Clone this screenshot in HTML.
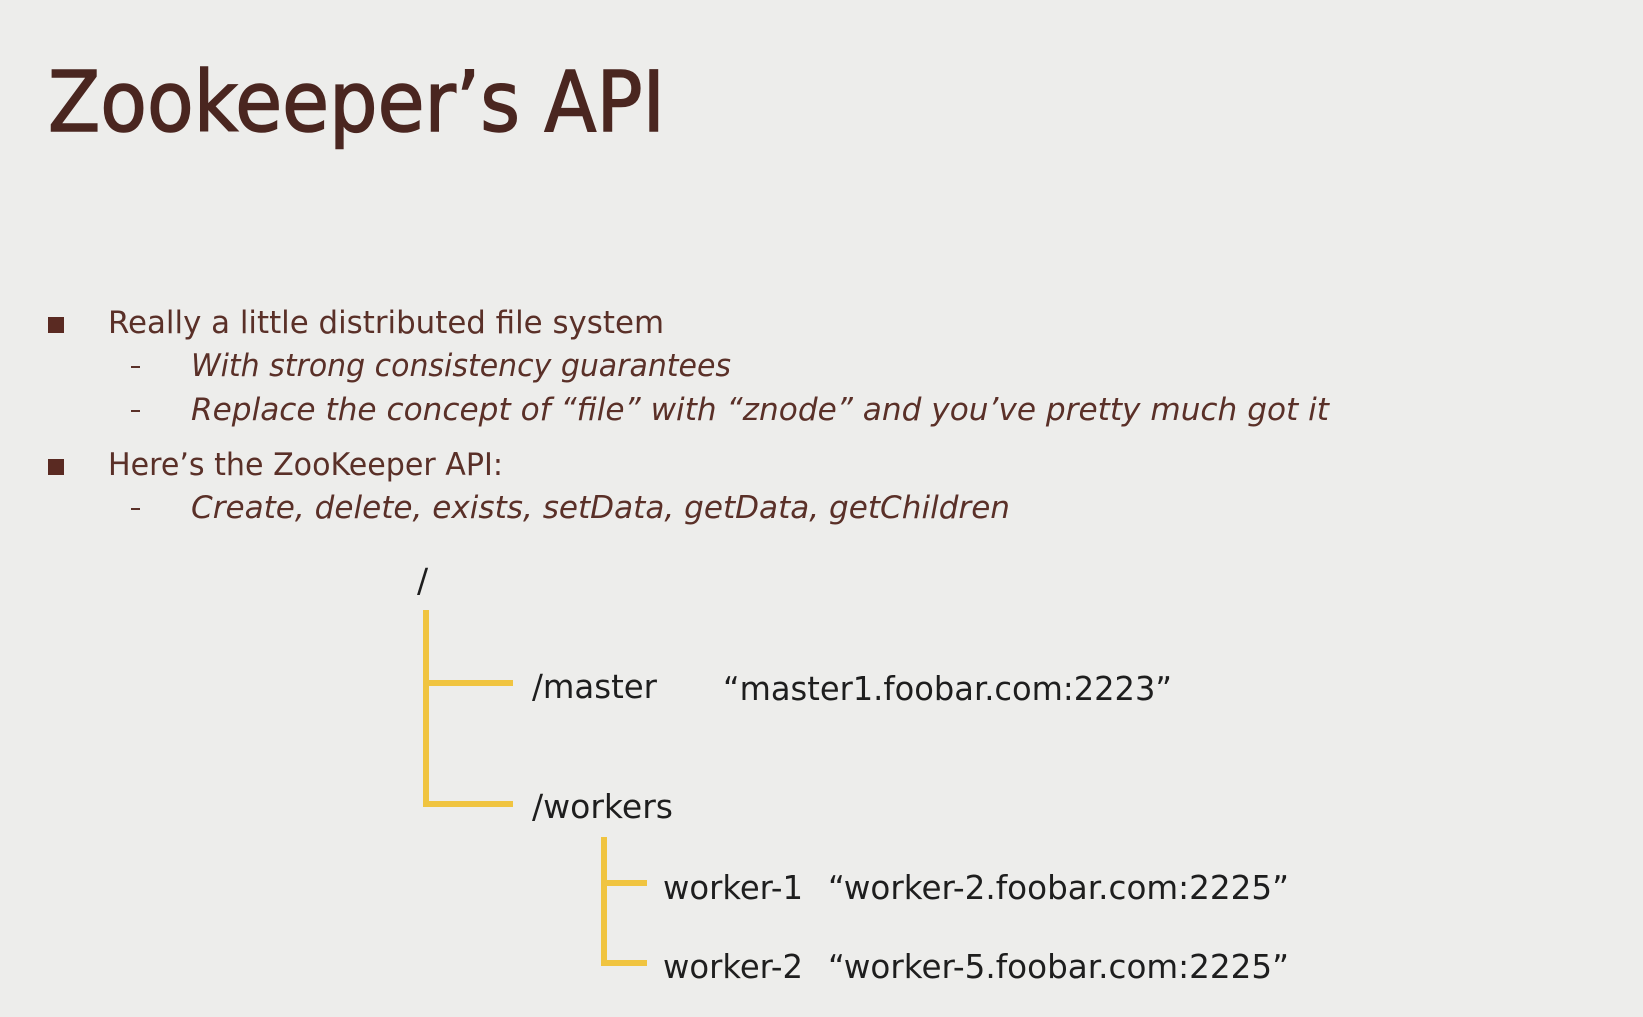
<!DOCTYPE html>
<html><head><meta charset="utf-8"><style>
html,body{margin:0;padding:0;background:#ededeb;}
svg{display:block}
text{font-family:"DejaVu Sans","Liberation Sans",sans-serif;}
</style></head><body>
<svg width="1643" height="1017" viewBox="0 0 1643 1017" xmlns="http://www.w3.org/2000/svg">
<rect width="1643" height="1017" fill="#ededeb"/>
<text x="48" y="131" font-size="84" fill="#4a2620" stroke="#4a2620" stroke-width="1.5" textLength="617" lengthAdjust="spacingAndGlyphs">Zookeeper’s API</text>
<g fill="#5a3028" font-size="31">
<rect x="48" y="317" width="16" height="16" fill="#5a2a22"/>
<text x="108" y="333" textLength="556" lengthAdjust="spacingAndGlyphs">Really a little distributed file system</text>
<rect x="131" y="366" width="9" height="2"/>
<text x="191" y="376" font-style="italic" textLength="540" lengthAdjust="spacingAndGlyphs">With strong consistency guarantees</text>
<rect x="131" y="410" width="9" height="2"/>
<text x="191" y="420" font-style="italic" textLength="1138" lengthAdjust="spacingAndGlyphs">Replace the concept of “file” with “znode” and you’ve pretty much got it</text>
<rect x="48" y="459" width="16" height="16" fill="#5a2a22"/>
<text x="108" y="475" textLength="395" lengthAdjust="spacingAndGlyphs">Here’s the ZooKeeper API:</text>
<rect x="131" y="508" width="9" height="2"/>
<text x="191" y="518" font-style="italic" textLength="819" lengthAdjust="spacingAndGlyphs">Create, delete, exists, setData, getData, getChildren</text>
</g>
<g stroke="#f0c440" stroke-width="6" fill="none">
<path d="M426 610 V804 H513"/>
<path d="M426 683 H513"/>
<path d="M604 837 V963 H647"/>
<path d="M604 883 H647"/>
</g>
<g fill="#1e1e1e" font-size="33">
<text x="417" y="592">/</text>
<text x="532" y="698" textLength="125" lengthAdjust="spacingAndGlyphs">/master</text>
<text x="723" y="700" textLength="449" lengthAdjust="spacingAndGlyphs">“master1.foobar.com:2223”</text>
<text x="532" y="818" textLength="141" lengthAdjust="spacingAndGlyphs">/workers</text>
<text x="663" y="899" textLength="140" lengthAdjust="spacingAndGlyphs">worker-1</text>
<text x="828" y="899" textLength="461" lengthAdjust="spacingAndGlyphs">“worker-2.foobar.com:2225”</text>
<text x="663" y="978" textLength="140" lengthAdjust="spacingAndGlyphs">worker-2</text>
<text x="828" y="978" textLength="461" lengthAdjust="spacingAndGlyphs">“worker-5.foobar.com:2225”</text>
</g>
</svg>
</body></html>
